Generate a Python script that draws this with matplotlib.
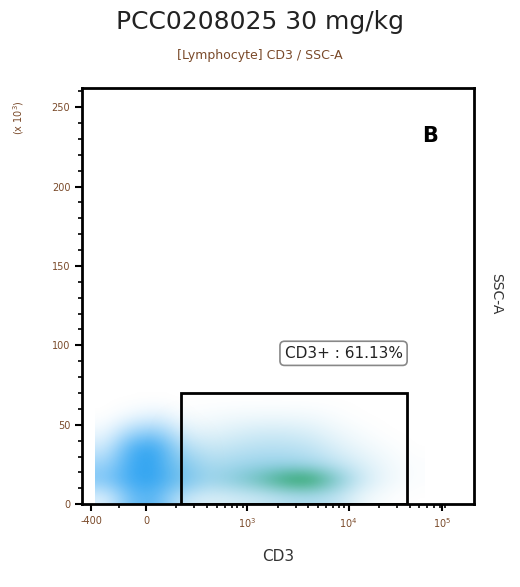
import numpy as np
import matplotlib.pyplot as plt
from matplotlib.patches import Rectangle

# display coordinate for CD3: 0 -> 0, each decade above 10^2 -> 1 unit
x_tick_pos = [-0.54, 0, 1, 2, 2.92]
x_tick_labels = ['-400', '0', '$10^3$', '$10^4$', '$10^5$']
y_ticks = [0, 50, 100, 150, 200, 250]

# coarse density grid (rows: SSC 0-10 ... 60-70)
col_centres = [-0.375, -0.125, 0.125, 0.375, 0.625, 0.875, 1.125, 1.375, 1.625, 1.875, 2.125, 2.375, 2.625]
row_centres = [5, 15, 25, 35, 45, 55, 65]
neg_density = np.array([
    [0.1, 0.4, 0.3, 0.15, 0.05, 0.0, 0.0],
    [0.5, 1.0, 0.9, 0.6, 0.3, 0.05, 0.0],
    [0.5, 1.0, 1.0, 0.8, 0.35, 0.1, 0.0],
    [0.1, 0.4, 0.3, 0.15, 0.05, 0.0, 0.0],
] + [[0] * 7] * 9).T
pos_density = np.array([[0] * 7] * 3 + [
    [0.15, 0.45, 0.4, 0.25, 0.1, 0.03, 0.0],
    [0.2, 0.55, 0.45, 0.3, 0.15, 0.05, 0.0],
    [0.25, 0.65, 0.5, 0.35, 0.2, 0.07, 0.0],
    [0.3, 0.75, 0.55, 0.4, 0.25, 0.08, 0.0],
    [0.4, 0.9, 0.55, 0.4, 0.25, 0.08, 0.0],
    [0.45, 0.95, 0.5, 0.35, 0.2, 0.07, 0.0],
    [0.35, 0.7, 0.35, 0.2, 0.1, 0.03, 0.0],
    [0.1, 0.3, 0.2, 0.1, 0.04, 0.0, 0.0],
    [0.02, 0.1, 0.08, 0.04, 0.0, 0.0, 0.0],
    [0.0, 0.02, 0.02, 0.0, 0.0, 0.0, 0.0],
]).T
gate_x = (0.345, 2.58)
gate_y = (0, 70)
gate_label = 'CD3+ : 61.13%'

brown = '#7a4a2a'
fig = plt.figure(figsize=(5.2, 5.87), dpi=100)
ax = fig.add_axes([0.158, 0.141, 0.754, 0.709])

extent = [col_centres[0] - 0.125, col_centres[-1] + 0.125, 0, 70]

# negative population: solid light blue
rgba = np.zeros(neg_density.shape + (4,))
rgba[..., :3] = [0.2, 0.65, 0.95]
rgba[..., 3] = np.clip(neg_density * 1.6, 0, 1)
ax.imshow(rgba, extent=extent, origin='lower', aspect='auto', interpolation='bicubic', zorder=2)

# positive population: cyan/blue speckle turning green only in the dense core
d = pos_density
core = np.clip((d - 0.6) / 0.35, 0, 1)
rgba = np.zeros(d.shape + (4,))
rgba[..., 0] = 0.35 - 0.3 * core
rgba[..., 1] = 0.72 - 0.12 * core
rgba[..., 2] = 0.88 - 0.65 * core
rgba[..., 3] = np.clip(d * 1.1, 0, 1)
ax.imshow(np.clip(rgba, 0, 1), extent=extent, origin='lower', aspect='auto', interpolation='bicubic', zorder=2)

ax.add_patch(Rectangle((gate_x[0], gate_y[0]), gate_x[1] - gate_x[0], gate_y[1] - gate_y[0],
                       fill=False, lw=2, ec='black', zorder=3))
ax.text(1.95, 95, gate_label, ha='center', va='center', fontsize=11, color='#222222',
        bbox=dict(boxstyle='round,pad=0.3', fc='white', ec='#888888', lw=1.2), zorder=4)
ax.text(2.8, 232, 'B', fontsize=15, fontweight='bold', ha='center', va='center')

ax.set_xlim(-0.63, 3.24)
ax.set_ylim(0, 262)
ax.set_xticks(x_tick_pos)
ax.set_xticklabels(x_tick_labels, fontsize=7, color=brown)
ax.set_yticks(y_ticks)
ax.set_yticklabels([str(v) for v in y_ticks], fontsize=7, color=brown)
ax.set_yticks(np.arange(0, 262, 10), minor=True)
minor_x = [-0.27]
for dec in range(3):
    minor_x += [dec + np.log10(k) for k in range(2, 10)]
ax.set_xticks([m for m in minor_x if m < 3.2], minor=True)
ax.tick_params(which='major', length=5, width=1.5)
ax.tick_params(which='minor', length=3, width=1.2)
for s in ax.spines.values():
    s.set_linewidth(2)

ax.set_xlabel('CD3', fontsize=11, color='#333333', labelpad=14)
fig.text(0.955, 0.5, 'SSC-A', rotation=270, ha='center', va='center', fontsize=10, color='#333333')
fig.text(0.035, 0.8, '(x 10$^3$)', rotation=90, ha='center', va='center', fontsize=7, color=brown)
fig.text(0.5, 0.962, 'PCC0208025 30 mg/kg', ha='center', va='center', fontsize=18, color='#222222')
fig.text(0.5, 0.905, '[Lymphocyte] CD3 / SSC-A', ha='center', va='center', fontsize=9, color=brown)

fig.savefig('out.png', dpi=100)
